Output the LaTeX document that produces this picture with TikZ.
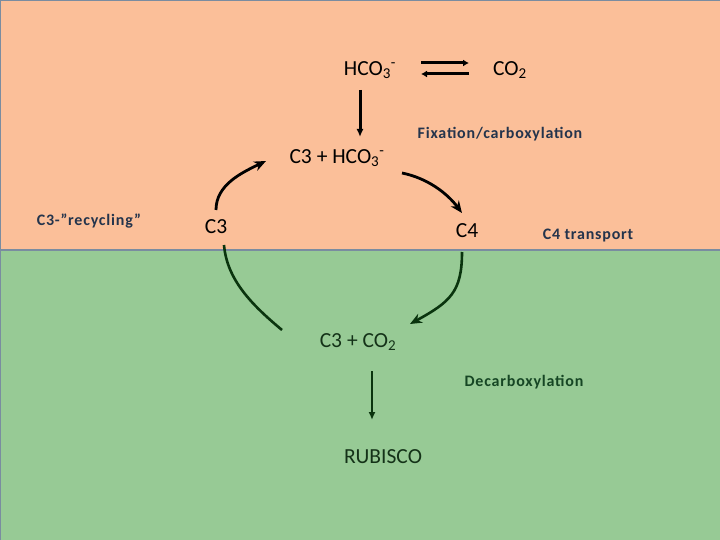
\documentclass[tikz,border=0pt]{standalone}
\usepackage{fontspec}
\setmainfont{Carlito}
\newfontfamily\lblfont[LetterSpace=5]{Carlito}
\usetikzlibrary{arrows.meta}
\definecolor{peach}{RGB}{251,191,153}
\definecolor{leaf}{RGB}{151,202,149}
\definecolor{edge}{RGB}{122,140,160}
\definecolor{navy}{RGB}{36,52,76}
\definecolor{dgreen}{RGB}{22,70,36}
\definecolor{dline}{RGB}{10,52,14}
\definecolor{dtext}{RGB}{20,50,24}
\tikzset{
  big/.style={inner sep=0pt,font=\fontsize{21.5}{25}\selectfont},
  lbl/.style={inner sep=0pt,font=\lblfont\fontsize{16}{19}\selectfont\bfseries},
  blk/.style={line width=3pt,-{Latex[length=6pt,width=7pt]}},
  crv/.style={line width=2.8pt,-{Stealth[length=12pt,width=10pt]}},
  grn/.style={line width=2.6pt,dline},
}
\newcommand{\at}[3]{([shift={(#2,#3)}]#1.center)}
\begin{document}
\begin{tikzpicture}[x=1pt,y=-1pt]
\useasboundingbox (0,0) rectangle (720,540);
\fill[peach] (0,0) rectangle (720,250);
\fill[leaf] (0,250) rectangle (720,540);
\draw[edge,line width=1.2pt] (0,250) -- (720,250);
\draw[edge,line width=1.5pt] (0.5,540) -- (0.5,0.5) -- (720,0.5);

\node[big] (hco) at (370,70) {HCO\textsubscript{3}\textsuperscript{-}};
\node[big] (co) at (510,70) {CO\textsubscript{2}};
\node[big] (chco) at (337,158) {C3 + HCO\textsubscript{3}\textsuperscript{-}};
\node[big] (c4) at (467,231) {C4};
\node[big] (c3) at (216,227) {C3};
\node[big,text=dtext] (cco) at (358,342) {C3 + CO\textsubscript{2}};
\node[big,text=dtext] (rub) at (383,457) {RUBISCO};
\node[lbl,text=navy] (fix) at (500,134) {Fixation/carboxylation};
\node[lbl,text=navy] (recyc) at (89,221) {C3-”recycling”};
\node[lbl,text=navy] (c4t) at (588,236) {C4 transport};
\node[lbl,text=dgreen] (dec) at (524,382) {Decarboxylation};

% equilibrium
\draw[blk] \at{hco}{51}{-7} -- \at{co}{-41}{-7};
\draw[blk] \at{co}{-41}{4} -- \at{hco}{51}{4};
% down to C3 + HCO3
\draw[blk,-{Latex[length=8pt,width=7pt]}] \at{hco}{-10}{20} -- \at{chco}{23}{-21};
% fixation curve
\draw[crv] \at{chco}{65}{15} .. controls +(25,5) and +(-15,-20) .. \at{c4}{-5}{-18};
% recycling curve (black)
\draw[crv] \at{c3}{0}{-17} .. controls +(0,-25) and +(-25,12) .. \at{chco}{-71}{3};
% recycling curve (green)
\draw[grn] \at{c3}{8}{18} .. controls +(3,35) and +(-30,-25) .. \at{cco}{-76}{-12};
% C4 transport curve
\draw[grn,-{Stealth[length=12pt,width=10pt]}] \at{c4}{-5}{21} .. controls +(0,40) and +(40,-22) .. \at{cco}{52}{-18};
% decarboxylation arrow
\draw[grn,line width=2.4pt,-{Latex[length=8pt,width=7pt]}] \at{cco}{14}{29} -- \at{rub}{-11}{-37};
\end{tikzpicture}
\end{document}
